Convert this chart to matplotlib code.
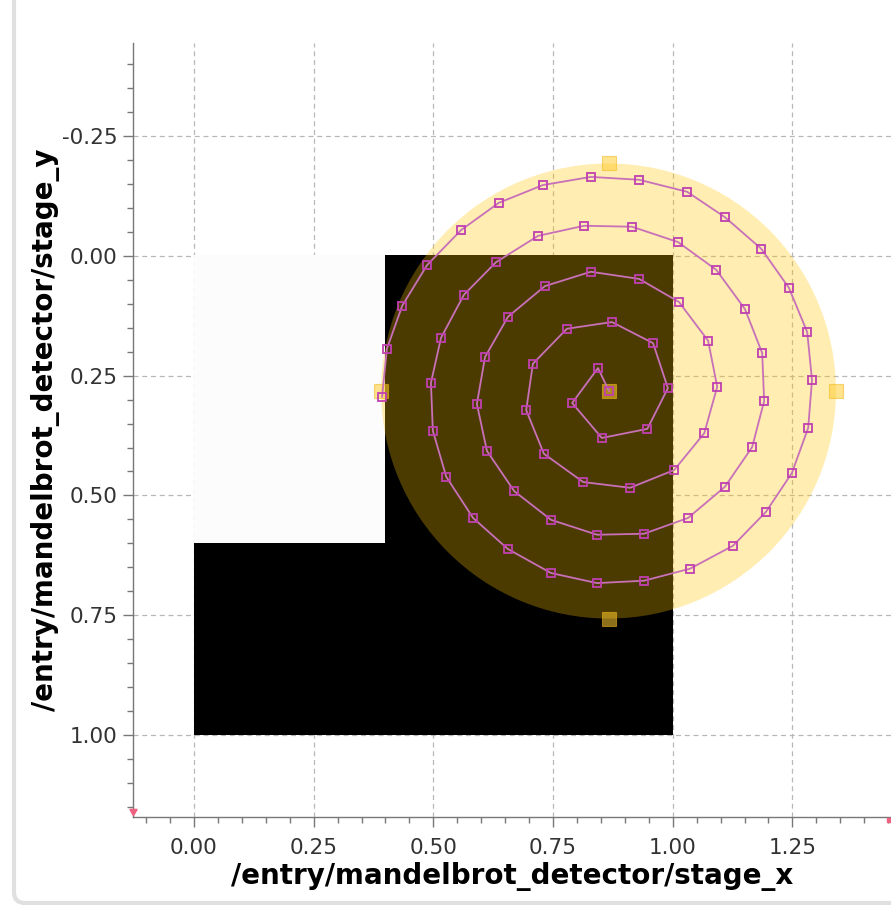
import numpy as np
import matplotlib as mpl
mpl.use('Agg')
import matplotlib.pyplot as plt
from matplotlib.patches import Circle, FancyBboxPatch

plt.rcParams['font.family'] = ['DejaVu Sans']
plt.rcParams['axes.unicode_minus'] = False

# ------------------------------------------------------------------
# Data
# ------------------------------------------------------------------
# detector image (rows = stage_y, cols = stage_x), 1 = white, 0 = black
image_values = np.array([
    [1, 1, 0, 0, 0],
    [1, 1, 0, 0, 0],
    [1, 1, 0, 0, 0],
    [0, 0, 0, 0, 0],
    [0, 0, 0, 0, 0],
])
image_extent = (0.0, 1.0, 1.0, 0.0)

# circular ROI
roi_center = (0.866, 0.282)
roi_radius = 0.475

# scan positions (spiral)
scan_x = [0.867, 0.844, 0.790, 0.852, 0.947, 0.990, 0.959, 0.873, 0.779, 0.708,
          0.694, 0.731, 0.813, 0.911, 1.003, 1.066, 1.093, 1.074, 1.013, 0.930,
          0.829, 0.733, 0.656, 0.608, 0.591, 0.612, 0.669, 0.746, 0.842, 0.940,
          1.032, 1.109, 1.166, 1.191, 1.187, 1.151, 1.091, 1.011, 0.915, 0.815,
          0.719, 0.631, 0.564, 0.516, 0.495, 0.499, 0.527, 0.583, 0.656, 0.746,
          0.842, 0.940, 1.036, 1.126, 1.195, 1.249, 1.283, 1.291, 1.281, 1.243,
          1.185, 1.109, 1.030, 0.930, 0.829, 0.729, 0.637, 0.558, 0.487, 0.435,
          0.403, 0.393]
scan_y = [0.282, 0.234, 0.307, 0.380, 0.361, 0.276, 0.182, 0.138, 0.152, 0.225,
          0.322, 0.413, 0.472, 0.484, 0.447, 0.370, 0.273, 0.177, 0.096, 0.048,
          0.033, 0.063, 0.127, 0.211, 0.309, 0.407, 0.491, 0.551, 0.582, 0.580,
          0.547, 0.482, 0.399, 0.303, 0.203, 0.111, 0.029, -0.029, -0.061, -0.063,
          -0.042, 0.013, 0.081, 0.171, 0.265, 0.365, 0.461, 0.547, 0.612, 0.662,
          0.683, 0.678, 0.653, 0.605, 0.534, 0.453, 0.359, 0.259, 0.159, 0.067,
          -0.015, -0.081, -0.134, -0.159, -0.165, -0.148, -0.111, -0.054, 0.019, 0.104,
          0.194, 0.294]

x_ticks = [0.00, 0.25, 0.50, 0.75, 1.00, 1.25]
y_ticks = [-0.25, 0.00, 0.25, 0.50, 0.75, 1.00]
x_label = "/entry/mandelbrot_detector/stage_x"
y_label = "/entry/mandelbrot_detector/stage_y"

# ------------------------------------------------------------------
fig = plt.figure(figsize=(8.91, 9.05), dpi=100)
ax = fig.add_axes([0.1489, 0.0976, 0.8511, 0.8546])

# widget frame on the left
frame = FancyBboxPatch((14 / 891, 2 / 905), 2.0, 1.2,
                       boxstyle="round,pad=0,rounding_size=0.012",
                       transform=fig.transFigure, facecolor='none',
                       edgecolor='#e0e0e0', lw=3.0, zorder=0)
fig.patches.append(frame)

ax.set_axisbelow(True)
ax.grid(True, which='major', color='#b8b8b8', lw=0.9, ls=(0, (4, 3)), zorder=0)

ax.imshow(image_values, cmap='gray', vmin=0, vmax=1.012, extent=image_extent,
          interpolation='nearest', zorder=1, aspect='auto')

roi = Circle(roi_center, roi_radius, facecolor=(1.0, 0.77, 0.0), alpha=0.30,
             edgecolor='none', zorder=2)
ax.add_patch(roi)

# ROI handles (center + cardinal points)
cx, cy = roi_center
hx = [cx, cx, cx, cx - roi_radius, cx + roi_radius]
hy = [cy, cy - roi_radius, cy + roi_radius, cy, cy]
ax.plot(hx, hy, ls='none', marker='s', ms=9.5, mfc=(1.0, 0.80, 0.2), mec=(0.95, 0.72, 0.1),
        mew=0.8, alpha=0.55, zorder=3)

ax.plot(scan_x, scan_y, color='#c870b8', lw=1.3, marker='s', ms=6.2, mfc='none',
        mec='#c040b0', mew=1.3, zorder=4)

ax.set_xlim(-0.128, 1.456)
ax.set_ylim(1.1706, -0.444)

ax.set_xticks(x_ticks)
ax.set_yticks(y_ticks)
ax.set_xticklabels([f"{v:.2f}" for v in x_ticks])
ax.set_yticklabels([f"{v:.2f}" for v in y_ticks])
ax.xaxis.set_minor_locator(mpl.ticker.MultipleLocator(0.05))
ax.yaxis.set_minor_locator(mpl.ticker.MultipleLocator(0.05))
ax.tick_params(which='major', direction='out', length=7, width=1, color='#777777',
               labelsize=15.5, labelcolor='#333333')
ax.tick_params(which='minor', direction='out', length=4, width=1, color='#777777')
ax.tick_params(axis='x', which='major', pad=8)
ax.tick_params(axis='y', which='major', pad=4)

for s in ('top', 'right'):
    ax.spines[s].set_visible(False)
for s in ('left', 'bottom'):
    ax.spines[s].set_color('#777777')
    ax.spines[s].set_linewidth(1.0)

ax.set_xlabel(x_label, fontsize=20, fontweight='bold', labelpad=3)
ax.set_ylabel(y_label, fontsize=20, fontweight='bold', labelpad=1)

# axis-end markers
ax.plot([-0.128], [1.158], marker=(3, 0, 180), ms=6, color='#f06080', clip_on=False, zorder=5)
ax.plot([1.452], [1.178], marker='s', ms=3, color='#f06080', clip_on=False, zorder=5)

fig.savefig("out.png", dpi=100, facecolor='white')
plt.close(fig)
